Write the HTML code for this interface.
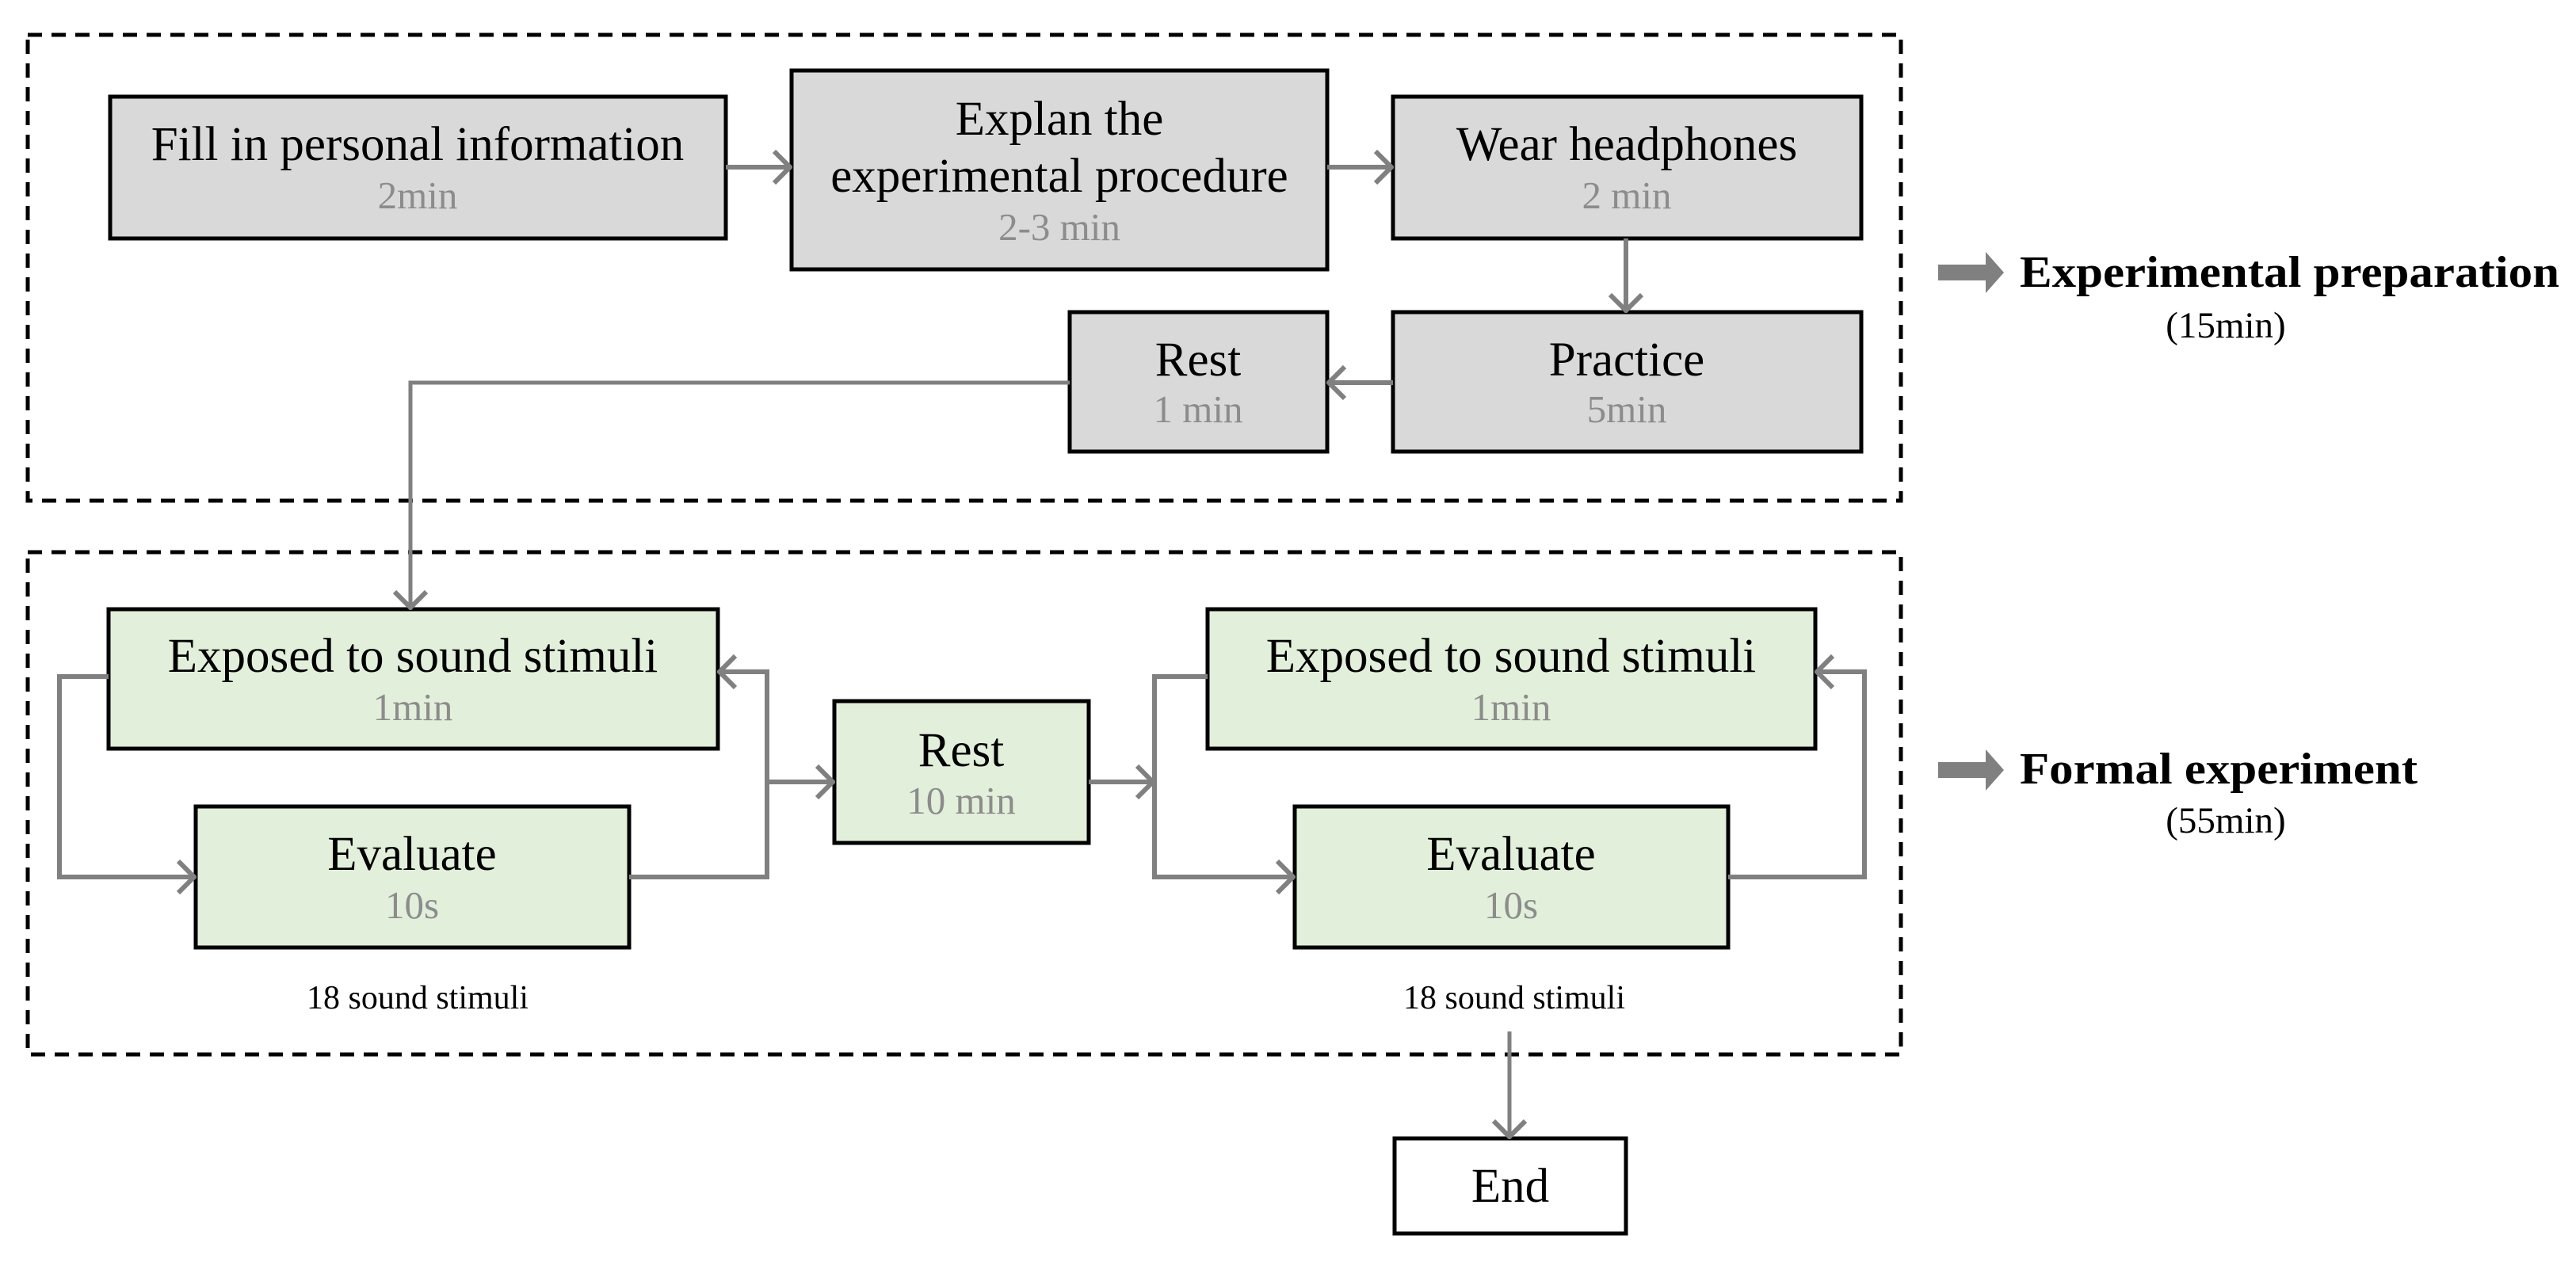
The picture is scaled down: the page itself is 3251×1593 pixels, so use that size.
<!DOCTYPE html>
<html><head><meta charset="utf-8"><style>
html,body{margin:0;padding:0;background:#fff;}
svg{display:block;}
text{font-family:"Liberation Serif",serif;}
</style></head><body>
<svg width="3251" height="1593" viewBox="0 0 3251 1593" xmlns="http://www.w3.org/2000/svg">
<defs>
<marker id="a" viewBox="0 0 26 46" refX="23" refY="23" markerWidth="26" markerHeight="46" markerUnits="userSpaceOnUse" orient="auto">
<path d="M3,3 L23,23 L3,43" fill="none" stroke="#808080" stroke-width="6"/>
</marker>
</defs>
<rect x="35" y="44" width="2364" height="588" fill="none" stroke="#000" stroke-width="5" stroke-dasharray="18,12"/>
<rect x="35" y="697" width="2364" height="634" fill="none" stroke="#000" stroke-width="5" stroke-dasharray="18,12"/>

<g stroke="#000" stroke-width="5" fill="#d9d9d9">
<rect x="139" y="122" width="777" height="179"/>
<rect x="999" y="89" width="676" height="251"/>
<rect x="1758" y="122" width="591" height="179"/>
<rect x="1758" y="394" width="591" height="176"/>
<rect x="1350" y="394" width="325" height="176"/>
</g>
<g stroke="#000" stroke-width="5" fill="#e2efda">
<rect x="137" y="769" width="769" height="176"/>
<rect x="247" y="1018" width="547" height="178"/>
<rect x="1053" y="885" width="321" height="179"/>
<rect x="1524" y="769" width="767" height="176"/>
<rect x="1634" y="1018" width="547" height="178"/>
</g>
<rect x="1760" y="1437" width="292" height="120" fill="#fff" stroke="#000" stroke-width="5"/>

<g stroke="#808080" stroke-width="6" fill="none">
<line x1="916" y1="211" x2="997" y2="211" marker-end="url(#a)"/>
<line x1="1675" y1="211" x2="1756" y2="211" marker-end="url(#a)"/>
<line x1="2052" y1="301" x2="2052" y2="392" marker-end="url(#a)"/>
<line x1="1758" y1="483" x2="1677" y2="483" marker-end="url(#a)"/>
<polyline points="1350,483 518,483 518,767" stroke-width="5" marker-end="url(#a)"/>
<polyline points="137,854 75,854 75,1107 245,1107" marker-end="url(#a)"/>
<polyline points="794,1107 968,1107 968,848 908,848" marker-end="url(#a)"/>
<line x1="968" y1="987" x2="1051" y2="987" marker-end="url(#a)"/>
<line x1="1374" y1="987" x2="1455" y2="987" marker-end="url(#a)"/>
<polyline points="1524,854 1457,854 1457,1107 1632,1107" marker-end="url(#a)"/>
<polyline points="2181,1107 2353,1107 2353,848 2293,848" marker-end="url(#a)"/>
<line x1="1905" y1="1302" x2="1905" y2="1435" stroke-width="5" marker-end="url(#a)"/>
</g>

<g fill="#808080">
<polygon points="2446,334 2506,334 2506,318 2529,344 2506,370 2506,354 2446,354"/>
<polygon points="2446,962 2506,962 2506,946 2529,972 2506,998 2506,982 2446,982"/>
</g>

<g text-anchor="middle" font-size="61" fill="#000">
<text x="527" y="202">Fill in personal information</text>
<text x="1337" y="170">Explan the</text>
<text x="1337" y="242">experimental procedure</text>
<text x="2053" y="202">Wear headphones</text>
<text x="2053" y="474">Practice</text>
<text x="1512" y="474">Rest</text>
<text x="521" y="848">Exposed to sound stimuli</text>
<text x="520" y="1098">Evaluate</text>
<text x="1213" y="967">Rest</text>
<text x="1907" y="848">Exposed to sound stimuli</text>
<text x="1907" y="1098">Evaluate</text>
<text x="1906" y="1517">End</text>
</g>
<g text-anchor="middle" font-size="49" fill="#8c8c8c">
<text x="527" y="263">2min</text>
<text x="1337" y="303">2-3 min</text>
<text x="2053" y="263">2 min</text>
<text x="2053" y="533">5min</text>
<text x="1512" y="533">1 min</text>
<text x="521" y="909">1min</text>
<text x="520" y="1159">10s</text>
<text x="1213" y="1027">10 min</text>
<text x="1907" y="909">1min</text>
<text x="1907" y="1159">10s</text>
</g>
<g text-anchor="middle" font-size="42" fill="#000">
<text x="527" y="1273">18 sound stimuli</text>
<text x="1911" y="1273">18 sound stimuli</text>
</g>
<text x="2549" y="362" font-size="56" font-weight="bold" textLength="681" lengthAdjust="spacingAndGlyphs">Experimental preparation</text>
<text x="2809" y="426" font-size="47" text-anchor="middle">(15min)</text>
<text x="2549" y="989" font-size="56" font-weight="bold" textLength="502" lengthAdjust="spacingAndGlyphs">Formal experiment</text>
<text x="2809" y="1051" font-size="47" text-anchor="middle">(55min)</text>
</svg>
</body></html>
